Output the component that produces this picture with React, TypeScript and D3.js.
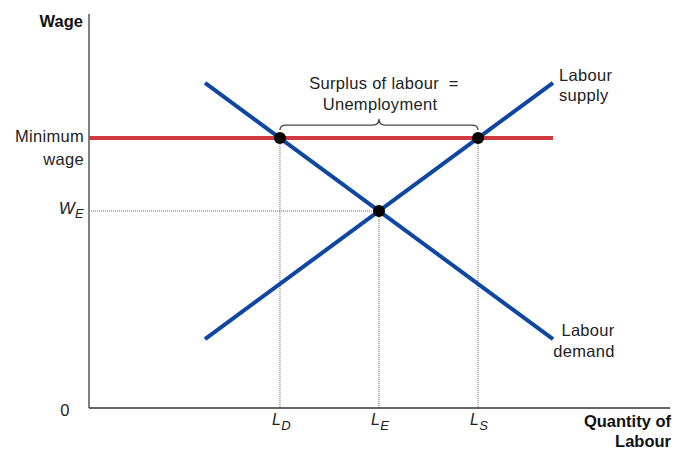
import * as d3 from "d3";

// curves in data units (x: quantity 0..10, y: wage 0..10)
const demandPts: [number, number][] = [
  [2, 8.25],
  [8, 1.75],
];
const supplyPts: [number, number][] = [
  [2, 1.75],
  [8, 8.25],
];
const minWage = 6.85;
const minWageEnd = 8;
const xTicks = ["D", "E", "S"];

const W = 680;
const H = 453;
const BLUE = "#0d47a1";
const RED = "#d0393f";
const FONT = "Liberation Sans, Arial, sans-serif";

// x where a 2-point line reaches a given y
const xAt = (pts: [number, number][], y: number) => {
  const [[x0, y0], [x1, y1]] = pts;
  return x0 + ((y - y0) * (x1 - x0)) / (y1 - y0);
};

const App = () => {
  const x = d3.scaleLinear().domain([0, 10]).range([89, 669]);
  const y = d3.scaleLinear().domain([0, 10]).range([408, 14]);
  const line = d3
    .line<[number, number]>()
    .x((d) => x(d[0]))
    .y((d) => y(d[1]));

  // equilibrium
  const [[a0, b0], [a1, b1]] = demandPts;
  const [[c0, d0], [c1, d1]] = supplyPts;
  const md = (b1 - b0) / (a1 - a0);
  const ms = (d1 - d0) / (c1 - c0);
  const eqX = (d0 - b0 + md * a0 - ms * c0) / (md - ms);
  const eqY = b0 + md * (eqX - a0);

  const ld = xAt(demandPts, minWage);
  const ls = xAt(supplyPts, minWage);
  const qs = [ld, eqX, ls];

  // curly brace over the surplus
  const bx0 = x(ld);
  const bx1 = x(ls);
  const bm = (bx0 + bx1) / 2;
  const by = y(minWage) - 8;
  const brace = `M${bx0},${by} q0,-5 6,-5 L${bm - 6},${by - 5} q6,0 6,-6 q0,6 6,6 L${bx1 - 6},${by - 5} q6,0 6,5`;

  return (
    <svg
      width={W}
      height={H}
      style={{ position: "absolute", left: 0, top: 0, background: "#fff" }}
      fontFamily={FONT}
    >
      {/* dotted guides */}
      <g stroke="#666" strokeWidth={1} strokeDasharray="1,1">
        {qs.map((q, i) => (
          <line
            key={i}
            x1={x(q)}
            x2={x(q)}
            y1={y(i === 1 ? eqY : minWage)}
            y2={y(0)}
          />
        ))}
        <line x1={x(0)} x2={x(eqX)} y1={y(eqY)} y2={y(eqY)} />
      </g>

      {/* axes */}
      <line x1={x(0)} x2={x(0)} y1={y(10)} y2={y(0)} stroke="#808080" strokeWidth={2} />
      <line x1={x(0)} x2={x(10) + 1} y1={y(0)} y2={y(0)} stroke="#333" strokeWidth={1.5} />

      {/* minimum wage */}
      <line
        x1={x(0)}
        x2={x(minWageEnd)}
        y1={y(minWage)}
        y2={y(minWage)}
        stroke={RED}
        strokeWidth={4}
      />

      {/* curves */}
      <path d={line(demandPts) ?? ""} stroke={BLUE} strokeWidth={4} fill="none" />
      <path d={line(supplyPts) ?? ""} stroke={BLUE} strokeWidth={4} fill="none" />

      {/* brace */}
      <path d={brace} fill="none" stroke="#444" strokeWidth={1.3} />

      {/* dots */}
      {[
        [ld, minWage],
        [ls, minWage],
        [eqX, eqY],
      ].map(([px, py], i) => (
        <circle key={i} cx={x(px)} cy={y(py)} r={6} fill="#000" />
      ))}

      {/* texts */}
      <g fontSize={16.5} fill="#222" letterSpacing={0.3}>
        <text x={384} y={89} textAnchor="middle" xmlSpace="preserve">
          {"Surplus of labour  ="}
        </text>
        <text x={380} y={110} textAnchor="middle">
          Unemployment
        </text>
        <text x={84} y={142} textAnchor="end">
          Minimum
        </text>
        <text x={84} y={165} textAnchor="end">
          wage
        </text>
        <text x={65} y={416} textAnchor="middle">
          0
        </text>
        <text x={559} y={81}>Labour</text>
        <text x={559} y={101}>supply</text>
        <text x={588} y={336} textAnchor="middle">
          Labour
        </text>
        <text x={584} y={357} textAnchor="middle">
          demand
        </text>
        <text x={84} y={214} textAnchor="end" fontStyle="italic" fontSize={17}>
          W<tspan fontSize={13} dy={4}>E</tspan>
        </text>
        {qs.map((q, i) => (
          <text key={i} x={x(q) - 8} y={425} fontStyle="italic" fontSize={16}>
            L<tspan fontSize={13} dy={5}>{xTicks[i]}</tspan>
          </text>
        ))}
      </g>
      <g fontSize={16.5} fontWeight="bold" fill="#111">
        <text x={83} y={27} textAnchor="end">
          Wage
        </text>
        <text x={671} y={427} textAnchor="end">
          Quantity of
        </text>
        <text x={671} y={447} textAnchor="end">
          Labour
        </text>
      </g>
    </svg>
  );
};

export default App;
